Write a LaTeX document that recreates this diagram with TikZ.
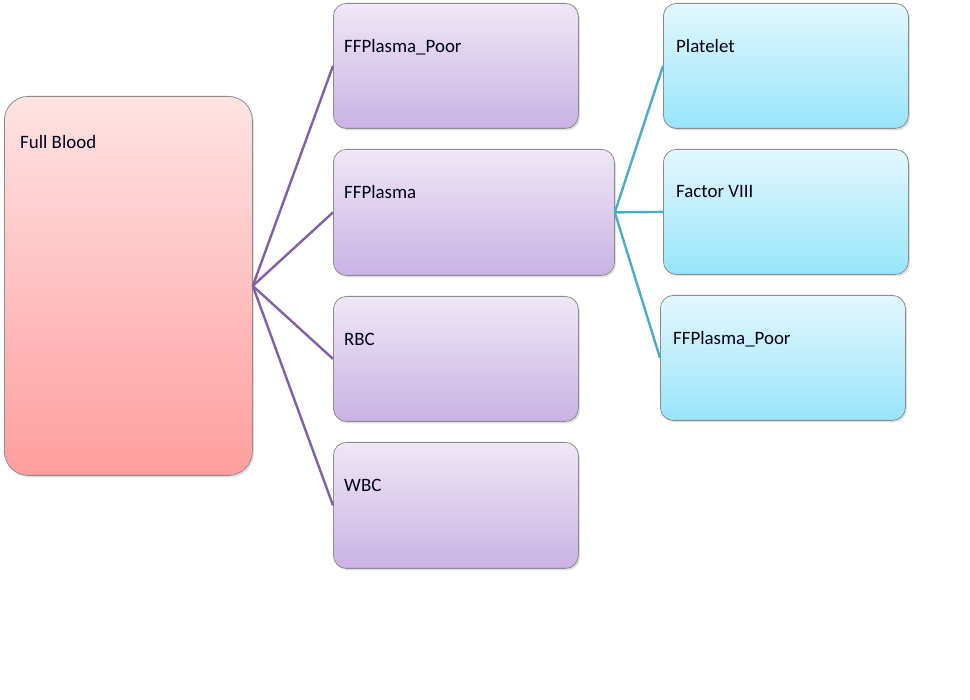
\documentclass[tikz,border=0pt]{standalone}
\usepackage{fontspec}
\setmainfont{Carlito}
\usetikzlibrary{shadows,calc}
\definecolor{lineP}{HTML}{7F62A2}
\definecolor{lineC}{HTML}{4BACC6}
\definecolor{bordr}{HTML}{8C8C8C}
\tikzset{
  box/.style={draw=bordr, line width=0.8pt, anchor=north west, inner sep=0pt,
    drop shadow={opacity=0.25, shadow xshift=1.5pt, shadow yshift=-2pt}},
  redbox/.style={box, rounded corners=24pt, top color={rgb,255:red,255;green,227;blue,227}, bottom color={rgb,255:red,255;green,158;blue,158}},
  purbox/.style={box, rounded corners=13pt, top color={rgb,255:red,239;green,231;blue,247}, bottom color={rgb,255:red,201;green,179;blue,228}},
  cyanbox/.style={box, rounded corners=13pt, top color={rgb,255:red,227;green,247;blue,254}, bottom color={rgb,255:red,152;green,229;blue,250}},
  lbl/.style={anchor=base west, inner sep=0pt, font=\fontsize{18.9}{22}\selectfont, text=black!90!blue},
  linkP/.style={draw=lineP, line width=2.4pt},
  linkC/.style={draw=lineC, line width=2.4pt}
}
\begin{document}
\begin{tikzpicture}[x=1pt,y=-1pt]
\useasboundingbox (0,0) rectangle (970,700);
% Full Blood
\node[redbox, minimum width=248pt, minimum height=379pt] (fb) at (4,96) {};
% purple
\node[purbox, minimum width=245pt, minimum height=125pt] (p1) at (333,3) {};
\node[purbox, minimum width=281pt, minimum height=126pt] (p2) at (333,149) {};
\node[purbox, minimum width=245pt, minimum height=125pt] (p3) at (333,296) {};
\node[purbox, minimum width=245pt, minimum height=126pt] (p4) at (333,442) {};
% cyan
\node[cyanbox, minimum width=245pt, minimum height=125pt] (c1) at (663,3) {};
\node[cyanbox, minimum width=245pt, minimum height=125pt] (c2) at (663,149) {};
\node[cyanbox, minimum width=245pt, minimum height=125pt] (c3) at (660,295) {};
% connectors
\draw[linkP] (fb.east) -- (p1.west);
\draw[linkP] (fb.east) -- (p2.west);
\draw[linkP] (fb.east) -- (p3.west);
\draw[linkP] (fb.east) -- (p4.west);
\draw[linkC] (p2.east) -- (c1.west);
\draw[linkC] (p2.east) -- (c2.west);
\draw[linkC] (p2.east) -- (c3.west);
% labels
\node[lbl] (tfb) at ($(fb.north west)+(16,53)$) {Full Blood};
\node[lbl] (tp1) at ($(p1.north west)+(11,50)$) {FFPlasma\_Poor};
\node[lbl] (tp2) at ($(p2.north west)+(11,50)$) {FFPlasma};
\node[lbl] (tp3) at ($(p3.north west)+(11,50)$) {RBC};
\node[lbl] (tp4) at ($(p4.north west)+(11,50)$) {WBC};
\node[lbl] (tc1) at ($(c1.north west)+(13,50)$) {Platelet};
\node[lbl] (tc2) at ($(c2.north west)+(13,49)$) {Factor VIII};
\node[lbl] (tc3) at ($(c3.north west)+(13,50)$) {FFPlasma\_Poor};
\end{tikzpicture}
\end{document}
